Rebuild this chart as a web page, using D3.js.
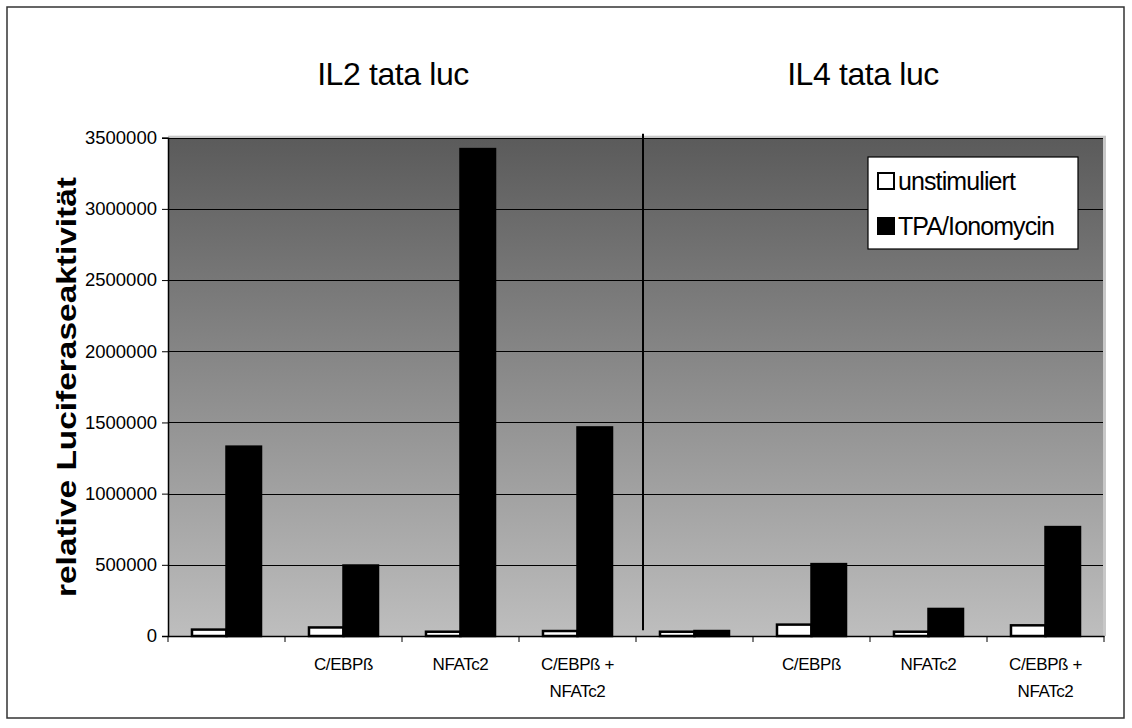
<!DOCTYPE html>
<html>
<head>
<meta charset="utf-8">
<script src="https://cdn.jsdelivr.net/npm/d3@7"></script>
<style>
  html, body { margin: 0; padding: 0; background: #fff; }
  svg { display: block; font-family: Arial, "Liberation Sans", sans-serif; }
</style>
</head>
<body>
<svg id="chart" width="1132" height="728"></svg>
<script>
// ---- data ----
const categories = [
  ["", ""],
  ["C/EBPß", ""],
  ["NFATc2", ""],
  ["C/EBPß +", "NFATc2"],
  ["", ""],
  ["C/EBPß", ""],
  ["NFATc2", ""],
  ["C/EBPß +", "NFATc2"]
];
const groupTitles = ["IL2 tata luc", "IL4 tata luc"];
const seriesNames = ["unstimuliert", "TPA/Ionomycin"];
const unstimuliert = [45000, 60000, 30000, 35000, 30000, 80000, 30000, 75000];
const tpaIonomycin = [1330000, 495000, 3420000, 1465000, 35000, 505000, 190000, 765000];
const yTicks = [0, 500000, 1000000, 1500000, 2000000, 2500000, 3000000, 3500000];
const yLabel = "relative Luciferaseaktivität";

// ---- layout ----
const svg = d3.select("#chart");
const pL = 168, pR = 1104, pT = 137.7, pB = 636;
const x = d3.scaleBand().domain(d3.range(categories.length)).range([pL, pR]).padding(0);
const bw = x.bandwidth();
const xs = d3.scaleBand().domain([0, 1]).range([bw * 0.205, bw * 0.795]).padding(0);
const y = d3.scaleLinear().domain([0, 3500000]).range([pB, pT]);

// outer frame
svg.append("rect").attr("x", 7).attr("y", 7).attr("width", 1117).attr("height", 711)
  .attr("fill", "none").attr("stroke", "#333").attr("stroke-width", 1.5);

// plot background gradient
const defs = svg.append("defs");
const grad = defs.append("linearGradient").attr("id", "bg").attr("x1", 0).attr("y1", 0).attr("x2", 0).attr("y2", 1);
grad.append("stop").attr("offset", "0%").attr("stop-color", "#5b5b5b");
grad.append("stop").attr("offset", "100%").attr("stop-color", "#bebebe");

// light frame (top & right)
svg.append("rect").attr("x", pL).attr("y", pT - 2).attr("width", pR - pL + 2).attr("height", pB - pT + 2)
  .attr("fill", "#c8c8c8");
svg.append("rect").attr("x", pL).attr("y", pT + 1).attr("width", pR - pL - 1).attr("height", pB - pT - 1)
  .attr("fill", "url(#bg)");

// gridlines
svg.append("g").selectAll("line").data(yTicks.filter(d => d > 0)).join("line")
  .attr("x1", pL).attr("x2", pR - 1)
  .attr("y1", d => Math.round(y(d)) + 0.5).attr("y2", d => Math.round(y(d)) + 0.5)
  .attr("stroke", "#000").attr("stroke-width", 1);

// divider between groups
svg.append("line")
  .attr("x1", x(4) + 7).attr("x2", x(4) + 7)
  .attr("y1", pT - 4).attr("y2", y(40000))
  .attr("stroke", "#000").attr("stroke-width", 2);

// bars
const seriesVals = [unstimuliert, tpaIonomycin];
const fills = ["#ffffff", "#000000"];
seriesVals.forEach((vals, si) => {
  svg.append("g").selectAll("rect").data(vals).join("rect")
    .attr("x", (d, i) => x(i) + xs(si))
    .attr("y", d => y(d))
    .attr("width", xs.bandwidth())
    .attr("height", d => y(0) - y(d))
    .attr("fill", fills[si])
    .attr("stroke", "#000").attr("stroke-width", 2.5);
});

// y axis
const yAxis = d3.axisLeft(y).tickValues(yTicks).tickSize(6).tickPadding(5).tickFormat(d3.format("d"));
const ya = svg.append("g").attr("transform", `translate(${pL},0)`).call(yAxis);
ya.select(".domain").attr("stroke", "#000").attr("stroke-width", 1.5);
ya.selectAll(".tick line").attr("stroke", "#000");
ya.selectAll(".tick text").attr("font-size", 18.5).attr("fill", "#000")
  .attr("font-family", "Arial, 'Liberation Sans', sans-serif");

// x axis
const xAxis = d3.axisBottom(x).tickSize(0).tickFormat("");
const xa = svg.append("g").attr("transform", `translate(0,${pB})`).call(xAxis);
xa.select(".domain").attr("stroke", "#000").attr("stroke-width", 1.5);
xa.selectAll(".tick").remove();
svg.append("g").selectAll("line").data(d3.range(categories.length + 1)).join("line")
  .attr("x1", i => (i < categories.length ? x(i) : pR)).attr("x2", i => (i < categories.length ? x(i) : pR))
  .attr("y1", pB).attr("y2", pB + 6)
  .attr("stroke", "#000").attr("stroke-width", 1);

const xl = svg.append("g").selectAll("text").data(categories).join("text")
  .attr("x", (d, i) => x(i) + bw / 2)
  .attr("y", 670)
  .attr("text-anchor", "middle")
  .attr("font-size", 17)
  .attr("letter-spacing", -0.4)
  .attr("fill", "#000");
xl.append("tspan").text(d => d[0]);
xl.append("tspan").attr("x", (d, i) => x(i) + bw / 2).attr("dy", 26.5).text(d => d[1]);

// group titles
svg.append("g").selectAll("text").data(groupTitles).join("text")
  .attr("x", (d, i) => (x(i * 4) + x(i * 4 + 3) + bw) / 2 - 9 + i * 2)
  .attr("y", 85)
  .attr("text-anchor", "middle")
  .attr("font-size", 32)
  .attr("letter-spacing", -0.4)
  .attr("fill", "#000")
  .text(d => d);

// y label
svg.append("text")
  .attr("transform", `translate(${76},${387}) rotate(-90)`)
  .attr("text-anchor", "middle")
  .attr("font-size", 27)
  .attr("font-weight", "bold")
  .attr("textLength", 420)
  .attr("lengthAdjust", "spacingAndGlyphs")
  .attr("fill", "#000")
  .text(yLabel);

// legend
const lg = svg.append("g").attr("transform", "translate(868,157)");
lg.append("rect").attr("x", 0).attr("y", 0).attr("width", 210).attr("height", 92)
  .attr("fill", "#fff").attr("stroke", "#000").attr("stroke-width", 1.2);
const li = lg.selectAll("g.item").data(seriesNames).join("g").attr("class", "item")
  .attr("transform", (d, i) => `translate(0,${i * 45})`);
li.append("rect").attr("x", 10).attr("y", 16).attr("width", 16).attr("height", 16)
  .attr("fill", (d, i) => fills[i]).attr("stroke", "#000").attr("stroke-width", 2);
li.append("text").attr("x", 30).attr("y", 33).attr("font-size", 25).attr("fill", "#000")
  .attr("letter-spacing", -0.9)
  .text(d => d);
</script>
</body>
</html>
